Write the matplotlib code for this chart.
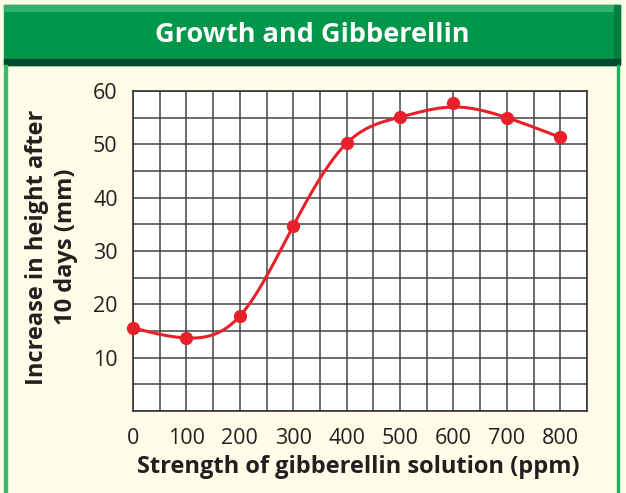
import numpy as np
import matplotlib
matplotlib.use("Agg")
import matplotlib.pyplot as plt
from matplotlib.patches import Rectangle

# data
strength = [0, 100, 200, 300, 400, 500, 600, 700, 800]
growth = [15.6, 13.7, 17.8, 34.7, 50.2, 55.1, 57.8, 55.0, 51.3]
# the drawn curve is a smooth fit; where it passes at each strength
curve_at = [15.6, 13.7, 17.8, 34.7, 50.2, 55.1, 57.0, 55.0, 51.3]
x_ticks = [0, 100, 200, 300, 400, 500, 600, 700, 800]
y_ticks = [10, 20, 30, 40, 50, 60]

W, H = 626, 493
RED = "#e8202a"
CREAM = "#fffde8"


def natural_spline(x, y, xs):
    """natural cubic spline through (x, y), evaluated at xs"""
    x = np.asarray(x, float)
    y = np.asarray(y, float)
    n = len(x)
    h = np.diff(x)
    A = np.zeros((n, n))
    b = np.zeros(n)
    A[0, 0] = A[-1, -1] = 1
    for i in range(1, n - 1):
        A[i, i - 1] = h[i - 1]
        A[i, i] = 2 * (h[i - 1] + h[i])
        A[i, i + 1] = h[i]
        b[i] = 3 * ((y[i + 1] - y[i]) / h[i] - (y[i] - y[i - 1]) / h[i - 1])
    c = np.linalg.solve(A, b)
    out = np.empty_like(xs)
    for k, xv in enumerate(xs):
        i = min(np.searchsorted(x, xv, side="right") - 1, n - 2)
        i = max(i, 0)
        dx = xv - x[i]
        bb = (y[i + 1] - y[i]) / h[i] - h[i] * (2 * c[i] + c[i + 1]) / 3
        d = (c[i + 1] - c[i]) / (3 * h[i])
        out[k] = y[i] + bb * dx + c[i] * dx ** 2 + d * dx ** 3
    return out


def fx(px):
    return px / W


def fy(py):
    return 1 - py / H


plt.rcParams["font.family"] = ["Open Sans", "DejaVu Sans"]

fig = plt.figure(figsize=(W / 100, H / 100), dpi=100, facecolor=CREAM)

# header band and frame
def band(x0, y0, x1, y1, color):
    fig.patches.append(Rectangle((fx(x0), fy(y1)), fx(x1) - fx(x0), fy(y0) - fy(y1),
                                 transform=fig.transFigure, color=color, zorder=0))

fig.patches.append(Rectangle((0, 0), 1, 1, transform=fig.transFigure, color=CREAM, zorder=-1))
band(4, 5, 620, 65, "#00974b")
band(4, 5, 620, 11, "#2fb26b")
band(614, 5, 620, 60, "#007f3e")
band(4, 59, 620, 65, "#004b2d")
band(4, 65, 6.5, 493, "#3cb96d")
band(616.5, 65, 619, 493, "#1fb25f")

fig.text(fx(312), fy(35), "Growth and Gibberellin", color="white", fontsize=19.5,
         fontweight="bold", ha="center", va="center")

ax = fig.add_axes([fx(133), fy(411), fx(587) - fx(133), fy(91) - fy(411)])
ax.set_facecolor("white")
ax.set_xlim(0, 850)
ax.set_ylim(0, 60)
ax.set_xticks(np.arange(0, 851, 50), minor=True)
ax.set_yticks(np.arange(0, 61, 5), minor=True)
ax.set_xticks(x_ticks)
ax.set_yticks(y_ticks)
ax.grid(True, which="both", color="#444444", linewidth=1.1)
ax.set_axisbelow(True)
ax.tick_params(which="both", length=0, labelsize=15.5, colors="#231f20")
ax.tick_params(axis="y", pad=11)
ax.tick_params(axis="x", pad=12)
for s in ax.spines.values():
    s.set_color("#333333")
    s.set_linewidth(1.2)

xs = np.linspace(0, 800, 400)
ax.plot(xs, natural_spline(strength, curve_at, xs), color=RED, linewidth=2.2,
        solid_capstyle="round", zorder=3)
ax.plot(strength, growth, "o", color=RED, markersize=8.5, zorder=4, clip_on=False)

fig.text(fx(358), fy(467), "Strength of gibberellin solution (ppm)", fontsize=17,
         fontweight="bold", ha="center", va="center", color="#231f20")
fig.text(fx(51.5), fy(247), "Increase in height after\n10 days (mm)", fontsize=17,
         fontweight="bold", ha="center", va="center", rotation=90, color="#231f20",
         linespacing=1.3)

fig.savefig("out.png", dpi=100, facecolor=CREAM)
